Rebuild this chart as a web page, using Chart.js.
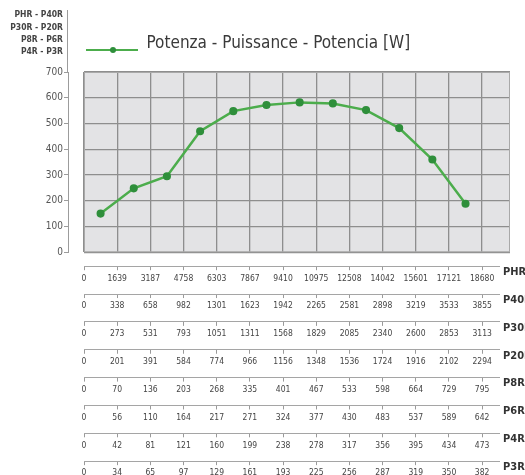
<!DOCTYPE html>
<html>
<head>
<meta charset="utf-8">
<script src="https://cdn.jsdelivr.net/npm/chart.js@4.4.1/dist/chart.umd.min.js"></script>
<style>
  html,body{margin:0;padding:0;background:#fff;overflow:hidden;}
  #wrap{width:525px;height:490px;}
</style>
</head>
<body>
<div id="wrap"><canvas id="chart" width="525" height="490"></canvas></div>
<script>
// power curve, one value per column
const power = [150, 248, 295, 470, 548, 572, 582, 578, 552, 482, 360, 188];
const seriesLabel = 'Potenza - Puissance - Potencia [W]';
const groupLabels = ['PHR - P40R', 'P30R - P20R', 'P8R - P6R', 'P4R - P3R'];

// flow scales under the chart, one per model
const rowNames = ['PHR', 'P40R', 'P30R', 'P20R', 'P8R', 'P6R', 'P4R', 'P3R'];
const rowPHR  = [0, 1639, 3187, 4758, 6303, 7867, 9410, 10975, 12508, 14042, 15601, 17121, 18680];
const rowP40R = [0, 338, 658, 982, 1301, 1623, 1942, 2265, 2581, 2898, 3219, 3533, 3855];
const rowP30R = [0, 273, 531, 793, 1051, 1311, 1568, 1829, 2085, 2340, 2600, 2853, 3113];
const rowP20R = [0, 201, 391, 584, 774, 966, 1156, 1348, 1536, 1724, 1916, 2102, 2294];
const rowP8R  = [0, 70, 136, 203, 268, 335, 401, 467, 533, 598, 664, 729, 795];
const rowP6R  = [0, 56, 110, 164, 217, 271, 324, 377, 430, 483, 537, 589, 642];
const rowP4R  = [0, 42, 81, 121, 160, 199, 238, 278, 317, 356, 395, 434, 473];
const rowP3R  = [0, 34, 65, 97, 129, 161, 193, 225, 256, 287, 319, 350, 382];
const rows = [rowPHR, rowP40R, rowP30R, rowP20R, rowP8R, rowP6R, rowP4R, rowP3R];

const FONT = "'Liberation Sans Narrow', 'DejaVu Sans Condensed', 'Arial Narrow', sans-serif";
const X_MAX = 12.84;
const GREEN = '#4cad4c', DOT = '#2f8f3b';

// legend symbol: line with a dot, sitting a bit under the text middle
const icon = document.createElement('canvas');
icon.width = 52; icon.height = 24;
const ic = icon.getContext('2d');
ic.strokeStyle = GREEN; ic.lineWidth = 2;
ic.beginPath(); ic.moveTo(0, 18); ic.lineTo(52, 18); ic.stroke();
ic.fillStyle = DOT; ic.beginPath(); ic.arc(27, 18, 3, 0, Math.PI * 2); ic.fill();

const scales = {
  x: {
    type: 'linear', min: 0, max: X_MAX, weight: 0,
    ticks: { display: false, stepSize: 1, includeBounds: false },
    grid: { color: '#8e8e8e', lineWidth: 1.3, drawTicks: false },
    border: { display: false },
    afterFit: s => { s.height = 14; }
  },
  y: {
    min: 0, max: 700, weight: 0,
    ticks: { display: false, stepSize: 100 },
    grid: { color: '#8e8e8e', lineWidth: 1.3, drawTicks: false },
    border: { display: false },
    afterFit: s => { s.width = 16; }
  },
  yl: {
    position: 'left', min: 0, max: 700, weight: 1,
    ticks: { stepSize: 100, padding: 1, color: '#555', font: { family: FONT, size: 10 } },
    grid: { drawOnChartArea: false, tickLength: 4, color: '#9c9c9c' },
    border: { color: '#9c9c9c' },
    afterFit: s => { s.width = 68; }
  }
};
rows.forEach((vals, i) => {
  scales['t' + i] = {
    type: 'linear', position: 'bottom', weight: i + 1, min: 0, max: X_MAX,
    ticks: {
      stepSize: 1, includeBounds: false, autoSkip: false, maxRotation: 0, padding: 3,
      color: '#444', font: { family: FONT, size: 8.5 },
      callback: v => { const n = vals[Math.round(v)]; return n === undefined ? '' : String(n); }
    },
    grid: { drawOnChartArea: false, tickLength: 4, color: '#9a9a9a', lineWidth: 1 },
    border: { color: '#a5a5a5' },
    afterFit: s => { s.height = 27.85; }
  };
});

const decor = {
  id: 'decor',
  afterLayout(chart) {
    // table lines stop a little short of the plot's right edge
    rows.forEach((_, i) => {
      const s = chart.scales['t' + i];
      s.right = s.left + (s.right - s.left) * 0.975;
    });
  },
  beforeDraw(chart) {
    const { ctx, chartArea: a } = chart;
    ctx.save();
    ctx.fillStyle = '#e3e3e5';
    ctx.fillRect(a.left, a.top, a.right - a.left, a.bottom - a.top);
    ctx.restore();
  },
  afterDraw(chart) {
    const { ctx, chartArea: a, scales: sc } = chart;
    ctx.save();
    ctx.strokeStyle = '#a9a9a9'; ctx.lineWidth = 1;
    ctx.strokeRect(a.left + 0.5, a.top + 0.5, a.right - a.left - 1, a.bottom - a.top - 1);
    const yl = sc.yl;
    ctx.strokeStyle = '#9c9c9c';
    ctx.beginPath(); ctx.moveTo(yl.right - 0.5, 10); ctx.lineTo(yl.right - 0.5, a.top); ctx.stroke();
    ctx.fillStyle = '#444'; ctx.font = 'bold 8.5px ' + FONT;
    ctx.textAlign = 'right'; ctx.textBaseline = 'middle';
    groupLabels.forEach((t, i) => ctx.fillText(t, yl.right - 5, 15 + i * 12.4));
    ctx.textAlign = 'left'; ctx.font = 'bold 11px ' + FONT; ctx.fillStyle = '#333';
    rowNames.forEach((n, i) => {
      const s = sc['t' + i];
      ctx.fillText(n, 503, s.top + 6);
    });
    ctx.restore();
  }
};

new Chart(document.getElementById('chart'), {
  type: 'line',
  data: {
    datasets: [{
      label: seriesLabel,
      data: power.map((v, i) => ({ x: i + 0.5, y: v })),
      borderColor: GREEN, backgroundColor: DOT,
      pointBackgroundColor: DOT, pointBorderColor: DOT,
      borderWidth: 2.5, pointRadius: 2.8, tension: 0,
      xAxisID: 'x', yAxisID: 'y'
    }]
  },
  options: {
    responsive: false, animation: false,
    layout: { padding: { top: 33.5, right: 15, bottom: 1, left: 0 } },
    plugins: {
      legend: {
        position: 'top', align: 'start', fullSize: false, weight: 3000,
        labels: {
          usePointStyle: true, pointStyle: icon, pointStyleWidth: 52, padding: 2,
          color: '#3a3a3a', font: { family: FONT, size: 17 }
        }
      },
      title: { display: true, text: '', weight: 2000, padding: { top: 0, bottom: 8.5 }, font: { size: 1, lineHeight: 1 } },
      tooltip: { enabled: false }
    },
    scales
  },
  plugins: [decor]
});
</script>
</body>
</html>
